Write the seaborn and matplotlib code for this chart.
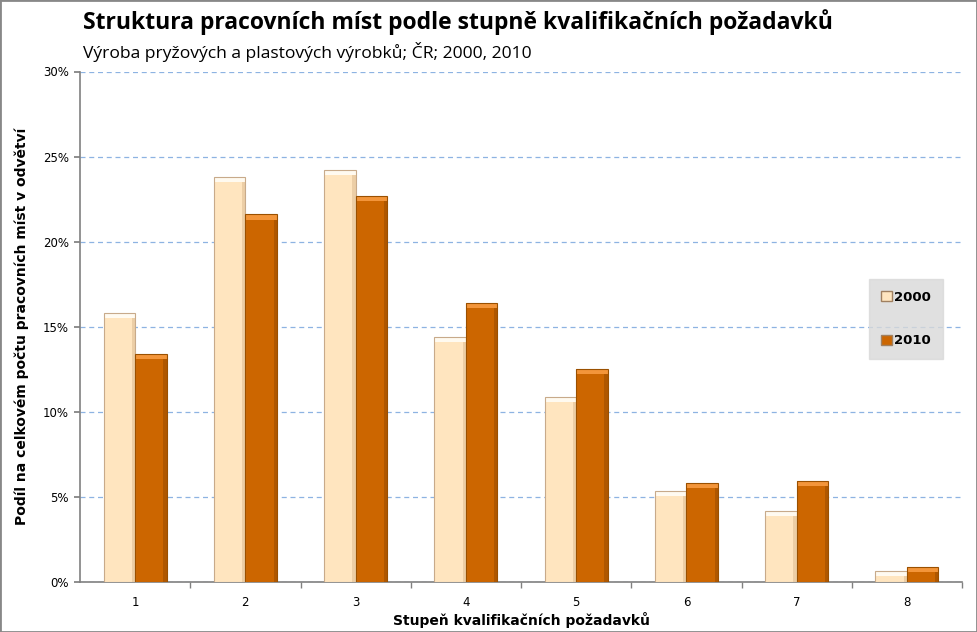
import numpy as np
import pandas as pd
import matplotlib
matplotlib.use("Agg")
import matplotlib.pyplot as plt
import matplotlib.patches as mpatches
import seaborn as sns

# data
stupne = ["1", "2", "3", "4", "5", "6", "7", "8"]
podil_2000 = [15.8, 23.8, 24.2, 14.4, 10.9, 5.35, 4.2, 0.65]
podil_2010 = [13.4, 21.6, 22.7, 16.4, 12.5, 5.8, 5.95, 0.9]
roky = ["2000", "2010"]
barvy = {"2000": "#FFE5BF", "2010": "#CC6600"}

df = pd.DataFrame({
    "stupen": stupne * 2,
    "rok": [roky[0]] * len(stupne) + [roky[1]] * len(stupne),
    "podil": podil_2000 + podil_2010,
})

sns.set_theme(style="white")
plt.rcParams["font.family"] = ["DejaVu Sans"]

fig = plt.figure(figsize=(9.77, 6.32), dpi=100)
ax = fig.add_axes([80 / 977, 1 - 582 / 632, (962 - 80) / 977, (582 - 71.5) / 632])

sns.barplot(data=df, x="stupen", y="podil", hue="rok", palette=barvy, saturation=1,
            width=0.57, dodge=True, ax=ax, zorder=3, legend=False,
            edgecolor="none", linewidth=0)

# bevel highlight on top of each bar
for p in ax.patches:
    x0, y0 = p.get_x(), p.get_y()
    w, h = p.get_width(), p.get_height()
    fc = p.get_facecolor()
    light = fc[2] > 0.5
    top_col = "#FFFAF0" if light else "#F3953A"
    side_col = "#E5C59C" if light else "#A35200"
    bh = min(0.3, h)
    ax.add_patch(mpatches.Rectangle((x0, y0 + h - bh), w, bh, facecolor=top_col,
                                    edgecolor="none", zorder=4))
    ax.add_patch(mpatches.Rectangle((x0 + w * 0.9, y0), w * 0.1, h - bh, facecolor=side_col,
                                    edgecolor="none", alpha=0.7, zorder=4))
    ax.add_patch(mpatches.Rectangle((x0, y0), w, h, facecolor="none",
                                    edgecolor="#C8AA8A" if light else "#9A5000",
                                    linewidth=0.8, zorder=5))

ax.set_ylim(0, 30)
ax.set_xlim(-0.5, len(stupne) - 0.5)
ax.set_yticks(np.arange(0, 31, 5))
ax.set_yticklabels([f"{v}%" for v in range(0, 31, 5)], fontsize=8.5, color="black")
ax.set_xticks(range(len(stupne)))
ax.set_xticklabels(stupne, fontsize=8.5, color="black")
ax.set_xticks(np.arange(0.5, len(stupne), 1), minor=True)
ax.tick_params(axis="x", which="major", length=0, pad=10)
ax.tick_params(axis="x", which="minor", length=4, color="#808080", direction="out", bottom=True)
ax.tick_params(axis="y", length=4, color="#808080", direction="out", pad=4, left=True)

ax.yaxis.grid(True, linestyle=(0, (4, 3)), color="#8DB3E2", linewidth=0.9, zorder=0)
ax.xaxis.grid(False)
for side in ["top", "right"]:
    ax.spines[side].set_visible(False)
for side in ["left", "bottom"]:
    ax.spines[side].set_color("#808080")
    ax.spines[side].set_linewidth(1.2)

ax.set_xlabel("Stupeň kvalifikačních požadavků", fontsize=10, fontweight="bold",
              labelpad=2, color="black")
ax.set_ylabel("Podíl na celkovém počtu pracovních míst v odvětví", fontsize=10,
              fontweight="bold", labelpad=10, color="black")

fig.text(83 / 977, 1 - 22 / 632, "Struktura pracovních míst podle stupně kvalifikačních požadavků",
         fontsize=16.5, fontweight="bold", family=["Open Sans", "DejaVu Sans"], va="center",
         color="black")
fig.text(83 / 977, 1 - 52 / 632, "Výroba pryžových a plastových výrobků; ČR; 2000, 2010",
         fontsize=12.6, family=["Open Sans", "DejaVu Sans"], va="center", color="black")

# legend
handles = [mpatches.Patch(facecolor=barvy[r], edgecolor="#A08060", label=r) for r in roky]
leg = ax.legend(handles=handles, loc="center left", bbox_to_anchor=(0.895, 0.515),
                frameon=True, fancybox=False, prop={"weight": "bold", "size": 9.5},
                handlelength=0.8, handleheight=0.8, handletextpad=0.2, labelspacing=2.3,
                borderpad=0.9, borderaxespad=0)
leg.get_frame().set_facecolor("#D9D9D9")
leg.get_frame().set_edgecolor("#D9D9D9")
for t in leg.get_texts():
    t.set_color("black")

# outer frame
fig.patches.append(mpatches.Rectangle((0, 0), 1, 1, transform=fig.transFigure, fill=False,
                                      edgecolor="#888888", linewidth=2))

fig.savefig("out.png", dpi=100)
